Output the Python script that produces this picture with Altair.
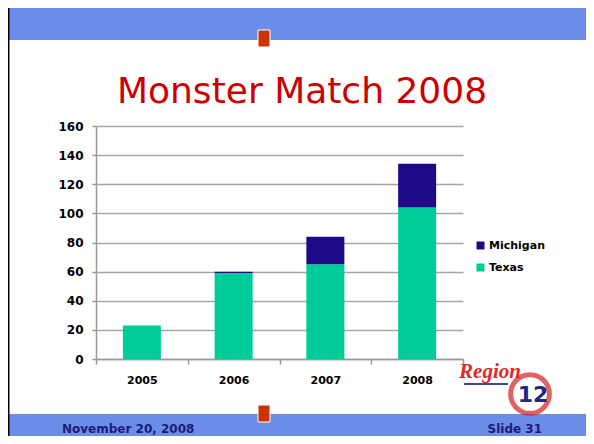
import altair as alt
import pandas as pd

years = ["2005", "2006", "2007", "2008"]
texas = [23, 59, 65, 104]
michigan = [0, 1, 19, 30]
series = ["Michigan", "Texas"]
series_colors = ["#1e0a87", "#00cc99"]
y_ticks = [0, 20, 40, 60, 80, 100, 120, 140, 160]

title_text = "Monster Match 2008"
footer_left = "November 20, 2008"
footer_right = "Slide 31"

rows = []
for yr, t, m in zip(years, texas, michigan):
    rows.append({"year": yr, "state": "Texas", "value": t, "ord": 0})
    rows.append({"year": yr, "state": "Michigan", "value": m, "ord": 1})
df = pd.DataFrame(rows)

one = pd.DataFrame({"a": [0]})
BLUE = "#6a8ee8"

def rect(x1, x2, y1, y2, color, **kw):
    return alt.Chart(one).mark_rect(color=color, **kw).encode(
        x=alt.value(x1), x2=alt.value(x2), y=alt.value(y1), y2=alt.value(y2))

def text(s, x, y, **kw):
    return alt.Chart(one).mark_text(text=s, **kw).encode(x=alt.value(x), y=alt.value(y))

# slide decorations (pixel coords relative to plot origin)
top_band = rect(-90, 500, -120, -86, BLUE)
bot_band = rect(-90, 500, 288, 320, BLUE)
left_border = rect(-88, -86.5, -120, 320, "#000000")
sq_top = rect(162, 174, -96, -79, "#cc3300", stroke="#ffffff", strokeWidth=1)
sq_bot = rect(162, 174, 279, 296, "#cc3300", stroke="#ffffff", strokeWidth=1)

title = text(title_text, 206, -23, font="DejaVu Sans", fontSize=36, color="#cc0000",
             align="center", baseline="alphabetic")
f_left = text(footer_left, -34, 307, font="DejaVu Sans", fontWeight="bold", fontSize=12,
              color="#1e1a7a", align="left", baseline="alphabetic")
f_right = text(footer_right, 446, 307, font="DejaVu Sans", fontWeight="bold", fontSize=12,
               color="#1e1a7a", align="right", baseline="alphabetic")

# logo approximation
logo_ring = alt.Chart(one).mark_point(shape="circle", filled=False, size=1500,
                                      stroke="#d42020", strokeWidth=5).encode(
    x=alt.value(434), y=alt.value(268))
logo_12 = text("12", 437, 276, font="DejaVu Sans", fontWeight="bold", fontSize=22,
               color="#1e2a80", align="center", baseline="alphabetic")
logo_region = text("Region", 394, 252, font="Liberation Serif", fontStyle="italic",
                   fontWeight="bold", fontSize=21, color="#e02828", align="center",
                   baseline="alphabetic")
logo_line = rect(368, 412, 257, 259, "#3a4a9a")

bars = alt.Chart(df).mark_bar(size=38).encode(
    x=alt.X("year:N", sort=years, title=None,
            scale=alt.Scale(paddingInner=0, paddingOuter=0),
            axis=alt.Axis(labelAngle=0, tickBand="extent", tickSize=5, labelPadding=10,
                          labelFont="DejaVu Sans", labelFontWeight="bold", labelFontSize=11,
                          labelColor="#000000", domainColor="#999999", tickColor="#999999",
                          domainWidth=1.5, tickWidth=1.5, grid=False)),
    y=alt.Y("value:Q", stack="zero", title=None,
            scale=alt.Scale(domain=[0, 160], nice=False),
            axis=alt.Axis(values=y_ticks, tickSize=4, labelPadding=9,
                          labelFont="DejaVu Sans", labelFontWeight="bold", labelFontSize=12,
                          labelColor="#000000", domainColor="#999999", tickColor="#999999",
                          domainWidth=1.5, tickWidth=1.5,
                          grid=True, gridColor="#a6a6a6", gridWidth=1.5)),
    color=alt.Color("state:N", scale=alt.Scale(domain=series, range=series_colors),
                    legend=alt.Legend(title=None, orient="none", legendX=379, legendY=114,
                                      symbolType="square", symbolSize=64,
                                      symbolStrokeWidth=0, labelFont="DejaVu Sans",
                                      labelFontWeight="bold", labelFontSize=11,
                                      labelColor="#000000", rowPadding=10,
                                      labelOffset=3, padding=0)),
    order=alt.Order("ord:Q"),
)

chart = alt.layer(
    top_band, bot_band, left_border, sq_top, sq_bot, title, f_left, f_right,
    bars, logo_ring, logo_12, logo_region, logo_line,
).properties(
    width=367, height=233,
    autosize=alt.AutoSizeParams(type="none"),
    padding={"left": 88, "top": 118, "right": 123, "bottom": 77},
).configure_view(stroke=None)

chart.save("out.html", embed_options={"renderer": "svg", "actions": False})
